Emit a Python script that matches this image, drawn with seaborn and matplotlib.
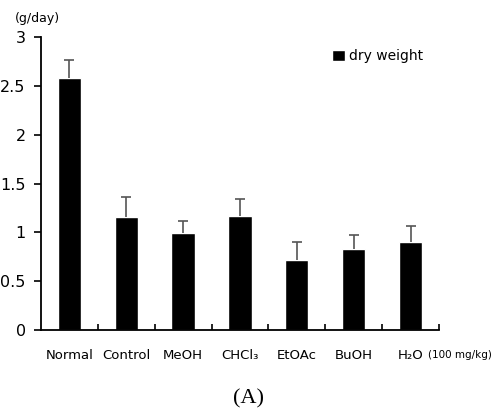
import seaborn as sns
import matplotlib.pyplot as plt
import matplotlib.ticker as mticker
import pandas as pd

groups = ["Normal", "Control", "MeOH", "CHCl₃", "EtOAc", "BuOH", "H₂O"]
dry_weight = [2.58, 1.16, 0.99, 1.17, 0.72, 0.83, 0.90]
sd = [0.18, 0.20, 0.13, 0.17, 0.18, 0.14, 0.16]

df = pd.DataFrame({"group": groups, "value": dry_weight, "sd": sd,
                   "series": "dry weight"})

sns.set_style("white")
plt.rcParams["font.family"] = ["DejaVu Sans"]
plt.rcParams["text.color"] = "black"
plt.rcParams["xtick.color"] = "black"
plt.rcParams["ytick.color"] = "black"

fig = plt.figure(figsize=(4.92, 4.18), dpi=100)
ax = fig.add_axes([0.0833, 0.2105, 0.8089, 0.701])

sns.barplot(data=df, x="group", y="value", hue="series", palette=["black"],
            width=0.41, saturation=1, errorbar=None, ax=ax)
eb = ax.errorbar(range(len(groups)), df["value"], yerr=[[0] * len(sd), df["sd"]],
                 fmt="none", ecolor="#555555", elinewidth=1.2, capsize=3.5,
                 capthick=1.2)
eb[1][0].set_visible(False)

ax.set_xlim(-0.5, len(groups) - 0.5)
ax.set_ylim(0, 3)
ax.set_yticks([0, 0.5, 1, 1.5, 2, 2.5, 3])
ax.set_yticklabels(["0", "0.5", "1", "1.5", "2", "2.5", "3"], fontsize=11.5)
ax.set_xticks(range(len(groups)))
ax.set_xticklabels(groups, fontsize=9.5)
ax.xaxis.set_minor_locator(mticker.FixedLocator([i + 0.5 for i in range(len(groups))]))
ax.tick_params(axis="x", which="major", length=0, pad=14)
ax.tick_params(axis="x", which="minor", bottom=True, direction="in", length=4,
               width=1.2, color="black")
ax.tick_params(axis="y", direction="out", length=5, width=1.2, color="black",
               left=True, pad=6)
ax.set_xlabel("")
ax.set_ylabel("")

for side in ["top", "right"]:
    ax.spines[side].set_visible(False)
for side in ["left", "bottom"]:
    ax.spines[side].set_color("black")
    ax.spines[side].set_linewidth(1.3)

ax.text(6.3, -0.255, "(100 mg/kg)", fontsize=7.5, ha="left", va="center")
fig.text(0.03, 0.955, "(g/day)", fontsize=9, ha="left", va="center")
fig.text(0.506, 0.045, "(A)", fontsize=16, family="Liberation Serif",
         ha="center", va="center")

leg = ax.legend(loc="upper left", bbox_to_anchor=(0.70, 1.0), frameon=False,
                fontsize=10, handlelength=0.9, handleheight=0.9,
                handletextpad=0.3)

fig.savefig("out.png", dpi=100)
